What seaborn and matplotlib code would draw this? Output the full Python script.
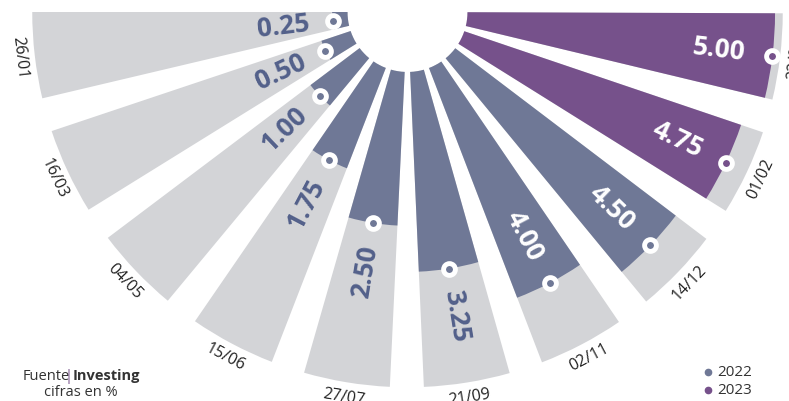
import numpy as np
import matplotlib
matplotlib.use("Agg")
import matplotlib.pyplot as plt
import seaborn as sns

sns.set_theme(style="white")
plt.rcParams['font.family'] = ['Open Sans', 'DejaVu Sans']

# Fed rate decisions
fechas = ['26/01', '16/03', '04/05', '15/06', '27/07', '21/09', '02/11', '14/12', '01/02', '22/03']
tipos = [0.25, 0.50, 1.00, 1.75, 2.50, 3.25, 4.00, 4.50, 4.75, 5.00]
anios = ['2022', '2022', '2022', '2022', '2022', '2022', '2022', '2022', '2023', '2023']

colores = {'2022': '#6f7896', '2023': '#76518b'}
gris = '#d3d4d7'
texto_2022 = '#52608a'

hueco = 0.975      # inner hole radius
pista = 5.125      # length of the grey track
paso = np.deg2rad(18.5)
ancho = np.deg2rad(13.3)

fig = plt.figure(figsize=(7.89, 4.01), dpi=100)
W, H = 789, 401
cx, cy = 407.5, 401 - 12
R = 406  # px for rmax
rmax = 6.6
ax = fig.add_axes([(cx - R) / W, (cy - R) / H, 2 * R / W, 2 * R / H], projection='polar')
ax.set_ylim(0, rmax)
ax.set_axis_off()

theta = np.pi + ancho / 2 + paso * np.arange(len(tipos))

ax.bar(theta, pista, width=ancho, bottom=hueco, color=gris, linewidth=0)
ax.bar(theta, tipos, width=ancho, bottom=hueco, color=[colores[a] for a in anios], linewidth=0)

for t, v, a, f in zip(theta, tipos, anios, fechas):
    r = hueco + v
    ax.plot([t], [r], 'o', ms=8.5, mfc=colores[a], mec='white', mew=3.5, clip_on=False)
    phi = np.rad2deg(t)
    rot = phi - 180 if phi < 270 else phi - 360
    if v < 3.5:
        ax.text(t, r + 0.8, f'{v:.2f}', rotation=rot, rotation_mode='anchor',
                ha='center', va='center', fontsize=19, fontweight='bold', color=texto_2022)
    else:
        ax.text(t, r - 0.87, f'{v:.2f}', rotation=rot, rotation_mode='anchor',
                ha='center', va='center', fontsize=19, fontweight='bold', color='white')
    ax.text(t, hueco + pista + 0.25, f, rotation=phi - 270, rotation_mode='anchor',
            ha='center', va='center', fontsize=11.5, color='#222222', clip_on=False)

# source note
fig.text(23 / W, 1 - 376 / H, 'Fuente', fontsize=10.5, color='#333333', va='center', ha='left')
fig.text(65 / W, 1 - 376 / H, '|', fontsize=10.5, color='#76518b', va='center', ha='left')
fig.text(73 / W, 1 - 376 / H, 'Investing', fontsize=10.5, fontweight='bold', color='#333333',
         va='center', ha='left')
fig.text(81 / W, 1 - 392 / H, 'cifras en %', fontsize=10.5, color='#333333', va='center', ha='center')

# legend
for i, a in enumerate(['2022', '2023']):
    y = 1 - (372 + 18 * i) / H
    fig.lines.append(plt.Line2D([708 / W], [y], marker='o', ms=4.5, color=colores[a],
                                transform=fig.transFigure, linestyle=''))
    fig.text(717 / W, y, a, fontsize=11, color='#333333', va='center', ha='left')

fig.savefig('out.png', dpi=100)
